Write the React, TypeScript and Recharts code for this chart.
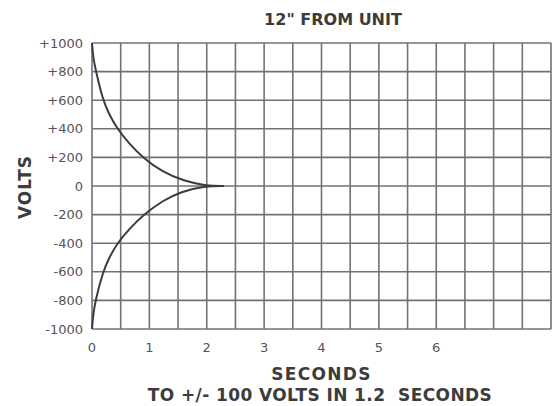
import { LineChart, Line, XAxis, YAxis, CartesianGrid } from 'recharts'

// decay curves (seconds, volts)
const upperSeconds = [0, 0.02, 0.07, 0.19, 0.3, 0.44, 0.64, 0.88, 1.22, 1.6, 2.0, 2.3]
const upperVolts = [1000, 900, 800, 600, 500, 400, 300, 200, 100, 35, 0, 0]
const lowerSeconds = [0, 0.02, 0.06, 0.19, 0.3, 0.44, 0.65, 0.9, 1.24, 1.55, 1.95, 2.3]
const lowerVolts = [-1000, -900, -800, -600, -500, -400, -300, -200, -100, -40, 0, 0]

const secondTicks = [0, 0.5, 1, 1.5, 2, 2.5, 3, 3.5, 4, 4.5, 5, 5.5, 6, 6.5, 7, 7.5, 8]
const secondLabels = ['0', '1', '2', '3', '4', '5', '6']
const voltTicks = [-1000, -800, -600, -400, -200, 0, 200, 400, 600, 800, 1000]

const upperData = upperSeconds.map((t, i) => ({ t, v: upperVolts[i] }))
const lowerData = lowerSeconds.map((t, i) => ({ t, v: lowerVolts[i] }))

const INK = '#3c3c3c'
const GRID = '#727272'
const TICK_FONT = { fontSize: 13, fill: '#555', fontFamily: 'DejaVu Sans' }
const BOLD = { fontFamily: 'DejaVu Sans', fontWeight: 700, fill: INK }

const fmtSecond = (v: number) => (secondLabels.includes(String(v)) ? String(v) : '')
const fmtVolt = (v: number) => (v > 0 ? `+${v}` : `${v}`)

export default function App() {
  return (
    <div style={{ position: 'absolute', left: 0, top: 0, width: 553, height: 406, background: '#fff' }}>
      <LineChart width={553} height={406} margin={{ top: 43, right: 2, bottom: 0, left: 0 }}>
        <CartesianGrid stroke={GRID} strokeWidth={1.6} />
        <XAxis
          dataKey="t"
          type="number"
          domain={[0, 8]}
          ticks={secondTicks}
          tickFormatter={fmtSecond}
          interval={0}
          height={77}
          axisLine={false}
          tickLine={false}
          tickSize={0}
          tickMargin={14}
          tick={TICK_FONT}
          label={{
            content: ({ viewBox }: any) => (
              <text x={viewBox.x + viewBox.width / 2} y={380} textAnchor="middle" fontSize={17} letterSpacing={1.3} {...BOLD}>
                SECONDS
              </text>
            ),
          }}
        />
        <YAxis
          type="number"
          domain={[-1000, 1000]}
          ticks={voltTicks}
          tickFormatter={fmtVolt}
          interval={0}
          width={92}
          axisLine={false}
          tickLine={false}
          tickSize={0}
          tickMargin={9}
          tick={TICK_FONT}
          label={{
            content: () => (
              <text x={31} y={187} transform="rotate(-90 31 187)" textAnchor="middle" fontSize={17} letterSpacing={1} {...BOLD}>
                VOLTS
              </text>
            ),
          }}
        />
        <Line data={upperData} dataKey="v" type="basis" stroke={INK} strokeWidth={2} dot={false} isAnimationActive={false} />
        <Line data={lowerData} dataKey="v" type="basis" stroke={INK} strokeWidth={2} dot={false} isAnimationActive={false} />
      </LineChart>
      <svg width={553} height={406} style={{ position: 'absolute', left: 0, top: 0, pointerEvents: 'none' }}>
        <text x={333} y={25} textAnchor="middle" fontSize={16} {...BOLD}>
          12" FROM UNIT
        </text>
        <text x={320} y={401} textAnchor="middle" fontSize={17} letterSpacing={0.4} style={{ whiteSpace: 'pre' }} {...BOLD}>
          TO +/- 100 VOLTS IN 1.2  SECONDS
        </text>
      </svg>
    </div>
  )
}
